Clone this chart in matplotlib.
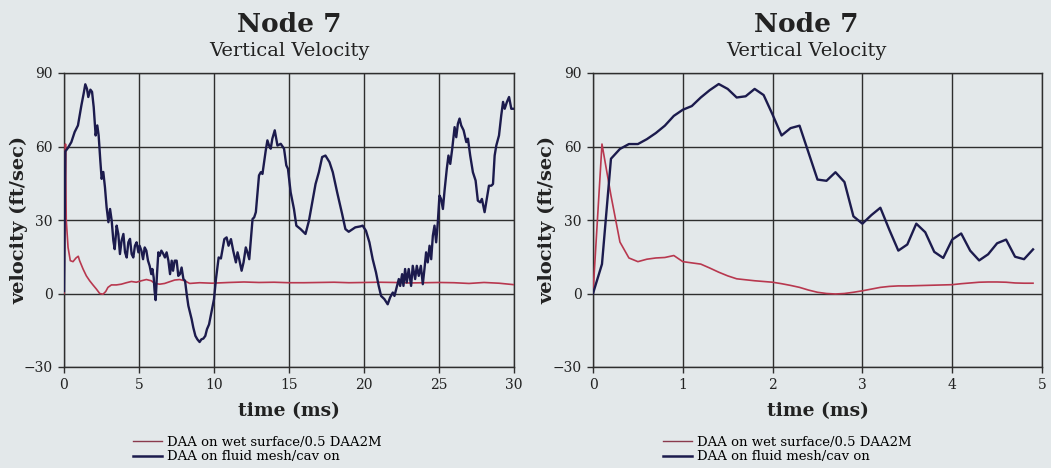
import matplotlib
matplotlib.use("Agg")
import matplotlib.pyplot as plt
from matplotlib.lines import Line2D

# ---- Node 7 vertical velocity, 0-30 ms window ----
t_fluid_long = [0, 0.09, 0.27, 0.49, 0.71, 0.93, 1.16, 1.31, 1.42, 1.53, 1.62, 1.76, 1.87,
                1.98, 2.11, 2.22, 2.31, 2.42, 2.51, 2.62, 2.73, 2.84, 2.96, 3.07, 3.18, 3.29,
                3.38, 3.51, 3.62, 3.73, 3.84, 3.96, 4.07, 4.18, 4.29, 4.40, 4.51, 4.62, 4.73,
                4.84, 4.96, 5.04, 5.16, 5.27, 5.38, 5.49, 5.60, 5.71, 5.82, 5.89, 5.98, 6.04,
                6.11, 6.20, 6.29, 6.38, 6.49, 6.60, 6.73, 6.84, 6.96, 7.07, 7.18, 7.27, 7.38,
                7.51, 7.62, 7.73, 7.84, 7.96, 8.07, 8.18, 8.29, 8.40, 8.51, 8.62, 8.76, 8.89,
                9.04, 9.16, 9.29, 9.42, 9.53, 9.67, 9.78, 9.89, 10.0,
                10.13, 10.31, 10.46, 10.69, 10.84, 10.97, 11.13, 11.28, 11.46, 11.57, 11.68,
                11.84, 11.97, 12.12, 12.23, 12.35, 12.46, 12.57, 12.68, 12.79, 12.9, 13.0,
                13.12, 13.23, 13.34, 13.45, 13.56, 13.67, 13.78, 13.89, 14.05, 14.23, 14.45,
                14.67, 14.82, 14.93, 15.11, 15.33, 15.49, 15.77, 16.1, 16.33, 16.55, 16.77,
                16.99, 17.21, 17.43, 17.7, 17.92, 18.21, 18.54, 18.76, 18.98, 19.42, 19.76,
                19.91, 20.13, 20.36, 20.58, 20.8, 20.98, 21.14, 21.36, 21.58, 21.74, 21.92,
                22.03, 22.18, 22.32, 22.41, 22.54, 22.63, 22.74, 22.85, 22.98, 23.14, 23.25,
                23.41, 23.52, 23.65, 23.79, 23.92, 24.03, 24.14, 24.25, 24.37, 24.48, 24.59,
                24.7, 24.81, 24.92, 25.03, 25.14, 25.26, 25.37, 25.52, 25.63, 25.75, 25.88,
                26.04, 26.15, 26.26, 26.37, 26.48, 26.64, 26.82, 26.93, 27.08, 27.26, 27.44,
                27.59, 27.75, 27.86, 28.04, 28.15, 28.33, 28.49, 28.6, 28.71, 28.82, 29.0,
                29.15, 29.27, 29.38, 29.53, 29.67, 29.82, 29.98]
v_fluid_long = [1, 58, 59.5, 61.8, 65.9, 68.6, 76.8, 81.6, 85.4, 83.6, 80.2, 83.2, 82.3,
                76.1, 64.5, 68.6, 64.5, 54.3, 46.8, 49.6, 43.4, 35.2, 29.1, 34.5, 29.7, 21.6,
                18.1, 27.7, 24.3, 16.1, 21.6, 24.3, 16.8, 14.7, 20.9, 22.3, 16.1, 14.7, 19.5,
                20.9, 16.8, 19.5, 17.5, 14.0, 18.8, 17.5, 13.4, 11.3, 7.9, 10.0, 6.5, 1.0,
                -2.7, 7.9, 16.8, 15.4, 17.5, 16.4, 14.7, 16.8, 13.4, 7.9, 13.4, 9.3, 13.4,
                13.4, 7.2, 7.9, 10.6, 5.9, 5.2, -0.3, -5.0, -7.8, -10.5, -13.9, -17.3, -18.7,
                -19.8, -18.7, -18.4, -17.3, -14.6, -12.6, -9.1, -5.7, -2.3,
                5.9, 14.7, 14.3, 22.2, 22.9, 19.5, 22.2, 17.5, 12.7, 16.8, 14.0,
                9.3, 12.7, 18.8, 16.8, 14.0, 22.2, 30.4, 31.1, 33.2, 41.3, 48.2,
                49.5, 48.8, 53.6, 58.4, 62.5, 60.4, 59.1, 63.2, 66.6, 60.4, 61.1,
                59.1, 52.3, 50.9, 41.3, 34.5, 27.7, 26.3, 24.3, 29.7, 37.2, 44.7,
                49.5, 55.7, 56.3, 53.6, 49.5, 41.3, 32.5, 26.3, 25.2, 27.0, 27.4,
                27.7, 25.6, 20.9, 14.0, 8.6, 3.1, -1.0, -2.3, -4.4, -1.6, 0.4,
                -1.0, 2.5, 5.9, 3.1, 7.9, 3.1, 10.0, 4.5, 10.0, 3.1, 11.3,
                5.9, 11.3, 7.2, 11.3, 3.8, 10.0, 16.8, 12.7, 19.5, 14.0, 23.6,
                27.7, 20.9, 29.0, 40.0, 38.6, 34.5, 42.0, 50.9, 56.3, 52.9, 59.0,
                67.9, 63.8, 69.3, 71.4, 68.6, 66.6, 61.8, 63.2, 56.3, 49.5, 46.1,
                37.9, 37.2, 38.6, 33.2, 37.2, 44.0, 44.0, 44.7, 56.3, 60.4, 64.5,
                72.7, 78.2, 75.4, 78.2, 80.2, 75.4, 75.4]

t_wet_long = [0, 0.1, 0.15, 0.27, 0.42, 0.6, 0.8, 0.95, 1.04, 1.27, 1.49, 1.71, 1.93, 2.16,
              2.38, 2.6, 2.78, 2.93, 3.16, 3.49, 3.82, 4.16, 4.49, 4.82, 5.16, 5.49, 5.82,
              6.04, 6.38, 6.71, 7.04, 7.38, 7.71, 8.04, 8.38, 9.04, 9.87, 11, 12, 13, 14,
              15, 16, 17, 18, 19, 20, 21, 22, 23, 24, 25, 26, 27, 28, 29, 30]
v_wet_long = [0, 61, 30, 18.8, 13.4, 13.0, 14.5, 15.2, 13.4, 10.0, 7.2, 5.2, 3.5, 1.8,
              0.0, -0.3, 0.8, 2.5, 3.5, 3.5, 3.8, 4.4, 4.9, 4.6, 5.2, 5.7, 5.2,
              4.1, 3.8, 4.1, 4.8, 5.5, 5.7, 5.2, 4.1, 4.4, 4.2, 4.5, 4.7, 4.5, 4.6,
              4.4, 4.4, 4.5, 4.6, 4.4, 4.5, 4.6, 4.5, 4.3, 4.4, 4.5, 4.4, 4.1, 4.5, 4.2, 3.6]

# ---- Node 7 vertical velocity, 0-5 ms window (0.1 ms output step) ----
t_short = [round(0.1 * i, 1) for i in range(50)]
v_fluid_short = [0, 12, 55, 59, 61, 61, 63, 65.5, 68.5, 72.5,
                 75, 76.5, 80, 83, 85.5, 83.5, 80, 80.5, 83.5, 81,
                 73, 64.5, 67.5, 68.5, 57.5, 46.5, 46, 49.5, 45.5, 31.5,
                 28.5, 32, 35, 26, 17.5, 20, 28.5, 25, 17, 14.5,
                 22, 24.5, 17.5, 13.5, 16, 20.5, 22, 15, 14, 18]
v_wet_short = [0, 61, 40, 21, 14.5, 13, 14, 14.5, 14.7, 15.5,
               13, 12.5, 12, 10.4, 8.7, 7.2, 6, 5.6, 5.2, 4.9,
               4.6, 4, 3.3, 2.5, 1.4, 0.5, 0, -0.2, 0, 0.5,
               1.1, 1.8, 2.5, 2.9, 3.1, 3.1, 3.2, 3.3, 3.4, 3.5,
               3.6, 4.0, 4.3, 4.6, 4.7, 4.7, 4.6, 4.3, 4.2, 4.2]

y_ticks = [-30, 0, 30, 60, 90]
x_ticks_long = [0, 5, 10, 15, 20, 25, 30]
x_ticks_short = [0, 1, 2, 3, 4, 5]
label_wet = "DAA on wet surface/0.5 DAA2M"
label_fluid = "DAA on fluid mesh/cav on"

BG = "#e3e8ea"
NAVY = "#1c1b4d"
RED = "#b8384f"
GRID = "#2e2e2e"
INK = "#222222"
SERIF = ["DejaVu Serif"]

W, H = 1051, 468
fig = plt.figure(figsize=(W / 100, H / 100), dpi=100)
fig.patch.set_facecolor(BG)


def px(x, y):
    return x / W, 1 - y / H


def make_panel(left_px, right_px, xt, xmax, t_w, v_w, t_f, v_f,
               title_x, leg_x, ylab_x):
    x0, y0 = px(left_px, 367)
    x1, y1 = px(right_px, 73)
    ax = fig.add_axes([x0, y0, x1 - x0, y1 - y0])
    ax.set_facecolor(BG)
    ax.plot(t_w, v_w, color=RED, lw=1.2, zorder=3)
    ax.plot(t_f, v_f, color=NAVY, lw=1.7, zorder=4)
    ax.set_xlim(0, xmax)
    ax.set_ylim(-30, 90)
    ax.set_xticks(xt)
    ax.set_yticks(y_ticks)
    ax.grid(True, color=GRID, lw=1.0)
    ax.set_axisbelow(True)
    for s in ax.spines.values():
        s.set_color(GRID)
        s.set_linewidth(1.0)
    ax.tick_params(direction="out", length=4, width=1, color=GRID,
                   labelsize=10, labelcolor=INK, pad=4)
    for lab in ax.get_xticklabels() + ax.get_yticklabels():
        lab.set_family(SERIF)
    ax.set_xlabel("time (ms)", family=SERIF, fontsize=13.5, fontweight="bold",
                  color=INK, labelpad=7)
    ax.set_ylabel("velocity (ft/sec)", family=SERIF, fontsize=14, fontweight="bold",
                  color=INK)
    ax.yaxis.set_label_coords((ylab_x - left_px) / (right_px - left_px), 0.5)
    tx, ty = px(title_x, 24)
    fig.text(tx, ty, "Node 7", family=SERIF, fontsize=19, fontweight="bold",
             ha="center", va="center", color=INK)
    tx, ty = px(title_x, 51)
    fig.text(tx, ty, "Vertical Velocity", family=SERIF, fontsize=14,
             ha="center", va="center", color=INK)
    handles = [Line2D([], [], color="#8a3a4c", lw=1.0),
               Line2D([], [], color=NAVY, lw=1.8)]
    lx, ly = px(leg_x, 436)
    fig.legend(handles, [label_wet, label_fluid], loc="upper left",
               bbox_to_anchor=(lx, ly), frameon=False, borderpad=0,
               borderaxespad=0, handlelength=2.2, handletextpad=0.4,
               labelspacing=0.1, prop={"family": SERIF, "size": 9.5})
    return ax


make_panel(64, 514, x_ticks_long, 30, t_wet_long, v_wet_long,
           t_fluid_long, v_fluid_long, 289, 133, 28)
make_panel(593, 1042, x_ticks_short, 5, t_short, v_wet_short,
           t_short, v_fluid_short, 806, 663, 556)

fig.savefig("out.png", dpi=100, facecolor=BG)
